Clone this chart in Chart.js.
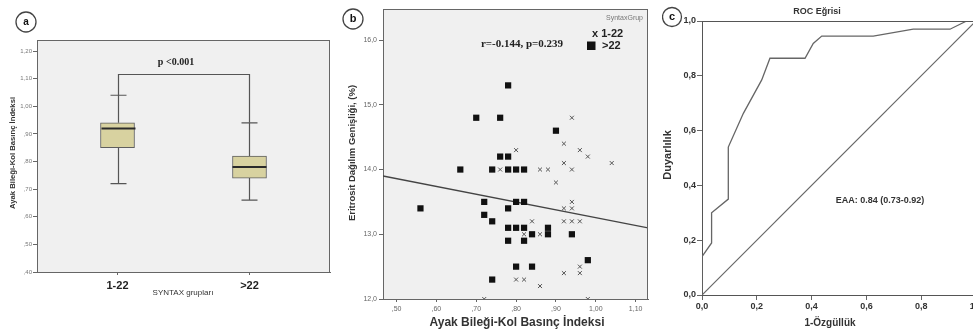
<!DOCTYPE html>
<html>
<head>
<meta charset="utf-8">
<script src="https://cdn.jsdelivr.net/npm/chart.js@4/dist/chart.umd.min.js"></script>
<style>
  body { margin: 0; width: 973px; height: 333px; overflow: hidden; background: #fff; position: relative; }
  canvas { position: absolute; top: 0; }
  #boxChart { left: 0; }
  #scatterChart { left: 331px; }
  #rocChart { left: 662px; }
</style>
</head>
<body>
<canvas id="boxChart" width="331" height="333"></canvas>
<canvas id="scatterChart" width="331" height="333"></canvas>
<canvas id="rocChart" width="330" height="333"></canvas>
<script>
// panel a - boxplot, ABI by SYNTAX group
const groups = ["1-22", ">22"];
const groupPos = [1, 2];
const whiskerLow = [0.72, 0.66];
const q1 = [0.85, 0.74];
const median = [0.92, 0.78];
const q3 = [0.94, 0.82];
const whiskerHigh = [1.04, 0.94];
const bracketLevel = 1.115;
const boxTicks = [0.4, 0.5, 0.6, 0.7, 0.8, 0.9, 1.0, 1.1, 1.2];

// panel b - RDW vs ABI
const crossX = [0.94, 0.92, 0.80, 0.96, 0.98, 0.92, 1.04, 0.76, 0.86, 0.88, 0.94, 0.90, 0.94, 0.92, 0.94,
  0.84, 0.92, 0.94, 0.96, 0.82, 0.86, 0.96, 0.92, 0.96, 0.80, 0.82, 0.86, 0.72, 0.98];
const crossY = [14.8, 14.4, 14.3, 14.3, 14.2, 14.1, 14.1, 14.0, 14.0, 14.0, 14.0, 13.8, 13.5, 13.4, 13.4,
  13.2, 13.2, 13.2, 13.2, 13.0, 13.0, 12.5, 12.4, 12.4, 12.3, 12.3, 12.2, 12.0, 12.0];
const squareX = [0.78, 0.70, 0.76, 0.90, 0.76, 0.78, 0.66, 0.74, 0.78, 0.80, 0.82, 0.72, 0.80, 0.82, 0.56, 0.78,
  0.72, 0.74, 0.78, 0.80, 0.82, 0.88, 0.84, 0.88, 0.94, 0.78, 0.82, 0.98, 0.80, 0.84, 0.74];
const squareY = [15.3, 14.8, 14.8, 14.6, 14.2, 14.2, 14.0, 14.0, 14.0, 14.0, 14.0, 13.5, 13.5, 13.5, 13.4, 13.4,
  13.3, 13.2, 13.1, 13.1, 13.1, 13.1, 13.0, 13.0, 13.0, 12.9, 12.9, 12.6, 12.5, 12.5, 12.3];
const fitX = [0.466, 1.131];
const fitY = [13.90, 13.10];
const abiTicks = [0.5, 0.6, 0.7, 0.8, 0.9, 1.0, 1.1];
const rdwTicks = [12, 13, 14, 15, 16];

// panel c - ROC
const rocX = [0, 0, 0.035, 0.035, 0.096, 0.096, 0.151, 0.218, 0.248, 0.376, 0.406, 0.437, 0.625, 0.771, 0.905, 0.966, 1.0];
const rocY = [0, 0.14, 0.19, 0.30, 0.35, 0.54, 0.663, 0.785, 0.864, 0.864, 0.918, 0.945, 0.945, 0.97, 0.97, 1.0, 1.0];
const diagX = [0, 1];
const diagY = [0, 1];
const rocTicks = [0, 0.2, 0.4, 0.6, 0.8, 1.0];

const SANS = '"Liberation Sans", Arial, sans-serif';
const SERIF = '"Liberation Serif", "Times New Roman", serif';
Chart.defaults.font.family = SANS;
Chart.defaults.animation = false;
Chart.defaults.plugins.legend.display = false;
Chart.defaults.plugins.tooltip.enabled = false;

const spss2 = v => { const s = v.toFixed(2).replace(".", ","); return s[0] === "0" ? s.slice(1) : s; };
const toPts = (xs, ys) => xs.map((x, i) => ({ x, y: ys[i] }));

function drawText(ctx, t) {
  ctx.save();
  ctx.font = t.font;
  ctx.fillStyle = t.color || "#333";
  ctx.textAlign = t.align || "center";
  ctx.textBaseline = "middle";
  ctx.translate(t.x, t.y);
  if (t.rotate) ctx.rotate(-Math.PI / 2);
  ctx.fillText(t.text, 0, 0);
  ctx.restore();
}

// background, frame, badge and free texts
const decor = {
  id: "decor",
  beforeDraw(chart, args, opts) {
    const { ctx, chartArea: a } = chart;
    if (opts.fill) {
      ctx.save();
      ctx.fillStyle = opts.fill;
      ctx.fillRect(a.left, a.top, a.right - a.left, a.bottom - a.top);
      ctx.restore();
    }
  },
  afterDraw(chart, args, opts) {
    const { ctx, chartArea: a } = chart;
    ctx.save();
    ctx.strokeStyle = opts.frame || "#666";
    ctx.lineWidth = 1;
    ctx.beginPath();
    if (opts.frameTop) { ctx.moveTo(a.left, a.top + 0.5); ctx.lineTo(a.right, a.top + 0.5); }
    if (opts.frameRight) { ctx.moveTo(a.right - 0.5, a.top); ctx.lineTo(a.right - 0.5, a.bottom); }
    ctx.stroke();
    if (opts.badge) {
      const b = opts.badge;
      ctx.beginPath();
      ctx.arc(b.x, b.y, b.r, 0, Math.PI * 2);
      ctx.fillStyle = "#fff";
      ctx.fill();
      ctx.strokeStyle = "#444";
      ctx.lineWidth = 1.3;
      ctx.stroke();
      drawText(ctx, { text: b.text, x: b.x, y: b.y, font: "bold " + b.size + "px " + SANS, color: "#111" });
    }
    ctx.restore();
    (opts.texts || []).forEach(t => drawText(ctx, t));
    if (opts.after) opts.after(chart);
  }
};

// whiskers, median and significance bracket for panel a
const boxParts = {
  id: "boxParts",
  afterDatasetsDraw(chart) {
    const { ctx, scales: { x, y } } = chart;
    const bars = chart.getDatasetMeta(0).data;
    ctx.save();
    ctx.lineCap = "butt";
    groupPos.forEach((g, i) => {
      const px = Math.round(x.getPixelForValue(g)) + 0.5;
      const half = bars[i].width / 2;
      const cap = 8;
      ctx.strokeStyle = "#555";
      ctx.lineWidth = 1.2;
      ctx.beginPath();
      ctx.moveTo(px, y.getPixelForValue(q3[i]));
      ctx.lineTo(px, y.getPixelForValue(whiskerHigh[i]));
      ctx.moveTo(px - cap, y.getPixelForValue(whiskerHigh[i]));
      ctx.lineTo(px + cap, y.getPixelForValue(whiskerHigh[i]));
      ctx.moveTo(px, y.getPixelForValue(q1[i]));
      ctx.lineTo(px, y.getPixelForValue(whiskerLow[i]));
      ctx.moveTo(px - cap, y.getPixelForValue(whiskerLow[i]));
      ctx.lineTo(px + cap, y.getPixelForValue(whiskerLow[i]));
      ctx.stroke();
      ctx.strokeStyle = "#2a2a2a";
      ctx.lineWidth = 2;
      ctx.beginPath();
      ctx.moveTo(px - half, y.getPixelForValue(median[i]));
      ctx.lineTo(px + half, y.getPixelForValue(median[i]));
      ctx.stroke();
    });
    const by = y.getPixelForValue(bracketLevel);
    const x1 = Math.round(x.getPixelForValue(1)) + 0.5;
    const x2 = Math.round(x.getPixelForValue(2)) + 0.5;
    ctx.strokeStyle = "#555";
    ctx.lineWidth = 1.2;
    ctx.beginPath();
    ctx.moveTo(x1, y.getPixelForValue(whiskerHigh[0]));
    ctx.lineTo(x1, by);
    ctx.lineTo(x2, by);
    ctx.lineTo(x2, y.getPixelForValue(whiskerHigh[1]));
    ctx.stroke();
    ctx.restore();
  }
};

const axisGrid = len => ({ drawOnChartArea: false, drawTicks: true, tickLength: len, color: "#666", lineWidth: 1, offset: false });

// ---- panel a
new Chart("boxChart", {
  type: "bar",
  data: {
    datasets: [{
      data: groupPos.map((g, i) => ({ x: g, y: [q1[i], q3[i]] })),
      backgroundColor: "#d8d2a0",
      borderColor: "#5e5e5e",
      borderWidth: 1,
      borderSkipped: false,
      barThickness: 34
    }]
  },
  options: {
    responsive: false,
    layout: { padding: { left: 0, top: 40, right: 1, bottom: 0 } },
    scales: {
      x: {
        type: "linear", min: 0.39, max: 2.61, offset: false,
        afterBuildTicks: s => { s.ticks = groupPos.map(v => ({ value: v })); },
        afterFit: s => { s.height = 61; },
        ticks: { callback: v => groups[v - 1], font: { size: 11, weight: "bold" }, color: "#222", padding: 4 },
        grid: axisGrid(3),
        border: { color: "#666" }
      },
      y: {
        min: 0.40, max: 1.24,
        afterBuildTicks: s => { s.ticks = boxTicks.map(v => ({ value: v })); },
        afterFit: s => { s.width = 37; },
        ticks: { callback: spss2, font: { size: 6 }, color: "#777", padding: 1 },
        grid: axisGrid(4),
        border: { color: "#666" }
      }
    },
    plugins: {
      decor: {
        fill: "#f0f0f0", frameTop: true, frameRight: true,
        badge: { text: "a", x: 26, y: 22, r: 10, size: 10 },
        texts: [
          { text: "p <0.001", x: 176, y: 62, font: "bold 10px " + SERIF, color: "#222" },
          { text: "Ayak Bileği-Kol Basınç İndeksi", x: 13, y: 153, rotate: true, font: "bold 7.7px " + SANS, color: "#333" },
          { text: "SYNTAX grupları", x: 183, y: 293, font: "8px " + SANS, color: "#333" }
        ]
      }
    }
  },
  plugins: [decor, boxParts]
});

// ---- panel b
new Chart("scatterChart", {
  type: "scatter",
  data: {
    datasets: [
      {
        label: "1-22",
        data: toPts(crossX, crossY),
        pointStyle: "crossRot", pointRadius: 2.8, borderColor: "#555", borderWidth: 1, clip: 0
      },
      {
        label: ">22",
        data: toPts(squareX, squareY),
        pointStyle: "rect", pointRadius: 4.4, backgroundColor: "#111", borderColor: "#111", borderWidth: 0, clip: 0
      },
      {
        label: "fit",
        data: toPts(fitX, fitY),
        showLine: true, pointRadius: 0, borderColor: "#444", borderWidth: 1.3
      }
    ]
  },
  options: {
    responsive: false,
    layout: { padding: { left: 0, top: 9, right: 14, bottom: 0 } },
    scales: {
      x: {
        type: "linear", min: 0.466, max: 1.131,
        afterBuildTicks: s => { s.ticks = abiTicks.map(v => ({ value: v })); },
        afterFit: s => { s.height = 34; },
        ticks: { callback: spss2, font: { size: 7 }, color: "#666", padding: 3 },
        grid: axisGrid(3),
        border: { color: "#666" }
      },
      y: {
        min: 12, max: 16.48,
        afterBuildTicks: s => { s.ticks = rdwTicks.map(v => ({ value: v })); },
        afterFit: s => { s.width = 52; },
        ticks: { callback: v => v.toFixed(1).replace(".", ","), font: { size: 7 }, color: "#666", padding: 2 },
        grid: axisGrid(4),
        border: { color: "#666" }
      }
    },
    plugins: {
      decor: {
        fill: "#f0f0f0", frameTop: true, frameRight: true,
        badge: { text: "b", x: 22, y: 19, r: 10, size: 11 },
        texts: [
          { text: "r=-0.144, p=0.239", x: 191, y: 44, font: "bold 11px " + SERIF, color: "#222" },
          { text: "SyntaxGrup", x: 312, y: 18, align: "right", font: "7px " + SANS, color: "#777" },
          { text: "x 1-22", x: 261, y: 34, align: "left", font: "bold 11px " + SANS, color: "#222" },
          { text: ">22", x: 271, y: 46, align: "left", font: "bold 11px " + SANS, color: "#222" },
          { text: "Eritrosit Dağılım Genişliği, (%)", x: 21, y: 153, rotate: true, font: "bold 9.5px " + SANS, color: "#333" },
          { text: "Ayak Bileği-Kol Basınç İndeksi", x: 186, y: 323, font: "bold 12px " + SANS, color: "#333" }
        ],
        after: chart => {
          const ctx = chart.ctx;
          ctx.save();
          ctx.fillStyle = "#111";
          ctx.fillRect(256, 41.5, 8.5, 8.5);
          ctx.restore();
        }
      }
    }
  },
  plugins: [decor]
});

// ---- panel c
new Chart("rocChart", {
  type: "scatter",
  data: {
    datasets: [
      { data: toPts(rocX, rocY), showLine: true, pointRadius: 0, borderColor: "#666", borderWidth: 1.3 },
      { data: toPts(diagX, diagY), showLine: true, pointRadius: 0, borderColor: "#666", borderWidth: 1.2 }
    ]
  },
  options: {
    responsive: false,
    layout: { padding: { left: 0, top: 21, right: 16, bottom: 0 } },
    scales: {
      x: {
        type: "linear", min: 0, max: 1,
        afterBuildTicks: s => { s.ticks = rocTicks.map(v => ({ value: v })); },
        afterFit: s => { s.height = 38; },
        ticks: { callback: v => v.toFixed(1).replace(".", ","), font: { size: 9, weight: "bold" }, color: "#333", padding: 1 },
        grid: axisGrid(5),
        border: { color: "#555" }
      },
      y: {
        min: 0, max: 1,
        afterBuildTicks: s => { s.ticks = rocTicks.map(v => ({ value: v })); },
        afterFit: s => { s.width = 40; },
        ticks: { callback: v => v.toFixed(1).replace(".", ","), font: { size: 9, weight: "bold" }, color: "#333", padding: 1 },
        grid: axisGrid(5),
        border: { color: "#555" }
      }
    },
    plugins: {
      decor: {
        frame: "#555", frameTop: true, frameRight: true,
        badge: { text: "c", x: 10, y: 17, r: 9.5, size: 11 },
        texts: [
          { text: "ROC Eğrisi", x: 155, y: 12, font: "bold 9px " + SANS, color: "#333" },
          { text: "Duyarlılık", x: 6, y: 155, rotate: true, font: "bold 11px " + SANS, color: "#333" },
          { text: "EAA: 0.84 (0.73-0.92)", x: 218, y: 201, font: "bold 9px " + SANS, color: "#333" },
          { text: "1-Özgüllük", x: 168, y: 323, font: "bold 10px " + SANS, color: "#333" }
        ]
      }
    }
  },
  plugins: [decor]
});
</script>
</body>
</html>
